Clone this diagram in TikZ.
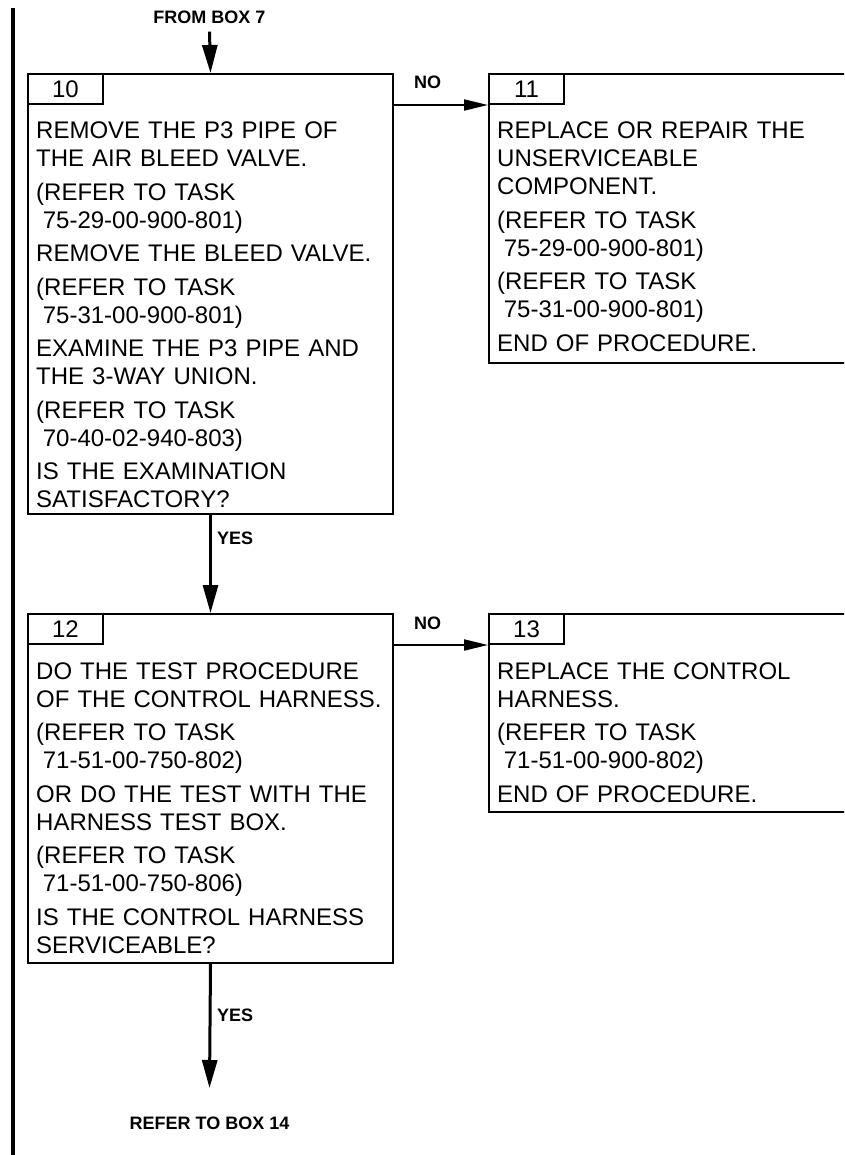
\documentclass[tikz,border=0pt]{standalone}
\usepackage{fontspec}
\setmainfont{Liberation Sans}
\usetikzlibrary{arrows.meta}
\newcommand{\ind}{\hspace*{0.278em}}
\begin{document}
\begin{tikzpicture}[x=1pt,y=1pt,
  box/.style={draw,line width=2pt,inner sep=0pt,anchor=north west},
  lbl/.style={draw,line width=2pt,inner sep=0pt,anchor=north west,minimum width=75pt,minimum height=30pt,font=\fontsize{24}{28}\selectfont},
  txt/.style={anchor=base west,inner sep=0pt,text width=420pt,align=left,font=\fontsize{24}{28}\selectfont},
  tag/.style={font=\bfseries\fontsize{18}{20}\selectfont,inner sep=0pt},
  vflow/.style={line width=3pt,-{Triangle[length=28pt,width=15pt]}},
  hflow/.style={line width=2pt,-{Triangle[length=24pt,width=11pt]}},
]
\useasboundingbox (0,0) rectangle (844,-1155);
\clip (0,0) rectangle (844,-1155);
\fill[white] (0,0) rectangle (844,-1155);

% left change bar
\draw[line width=3.5pt] (13,-8) -- (13,-1155);

% boxes
\node[box,minimum width=365pt,minimum height=440pt] (b10) at (27,-73) {};
\node[box,minimum width=400pt,minimum height=289pt] (b11) at (488,-73) {};
\node[box,minimum width=365pt,minimum height=349pt] (b12) at (27,-613) {};
\node[box,minimum width=400pt,minimum height=198pt] (b13) at (488,-613) {};

% number tabs
\node[lbl] (l10) at (b10.north west) {10};
\node[lbl] (l11) at (b11.north west) {11};
\node[lbl] (l12) at (b12.north west) {12};
\node[lbl] (l13) at (b13.north west) {13};

% texts
\node[txt] (t10) at (36,-139) {REMOVE THE P3 PIPE OF\\THE AIR BLEED VALVE.\\[5.5pt]
(REFER TO TASK\\\ind 75-29-00-900-801)\\[5.5pt]
REMOVE THE BLEED VALVE.\\[5.5pt]
(REFER TO TASK\\\ind 75-31-00-900-801)\\[5.5pt]
EXAMINE THE P3 PIPE AND\\THE 3-WAY UNION.\\[5.5pt]
(REFER TO TASK\\\ind 70-40-02-940-803)\\[5.5pt]
IS THE EXAMINATION\\SATISFACTORY?};

\node[txt] (t11) at (497,-139) {REPLACE OR REPAIR THE\\UNSERVICEABLE\\COMPONENT.\\[5.5pt]
(REFER TO TASK\\\ind 75-29-00-900-801)\\[5.5pt]
(REFER TO TASK\\\ind 75-31-00-900-801)\\[5.5pt]
END OF PROCEDURE.};

\node[txt] (t12) at (36,-679) {DO THE TEST PROCEDURE\\OF THE CONTROL HARNESS.\\[5.5pt]
(REFER TO TASK\\\ind 71-51-00-750-802)\\[5.5pt]
OR DO THE TEST WITH THE\\HARNESS TEST BOX.\\[5.5pt]
(REFER TO TASK\\\ind 71-51-00-750-806)\\[5.5pt]
IS THE CONTROL HARNESS\\SERVICEABLE?};

\node[txt] (t13) at (497,-679) {REPLACE THE CONTROL\\HARNESS.\\[5.5pt]
(REFER TO TASK\\\ind 71-51-00-900-802)\\[5.5pt]
END OF PROCEDURE.};

% flow labels
\node[tag] (from7) at (209.5,-17) {FROM BOX 7};
\node[tag] (ref14) at (209.5,-1123) {REFER TO BOX 14};
\node[tag,anchor=west] (yes1) at (217,-538) {YES};
\node[tag,anchor=west] (yes2) at (217,-1015) {YES};
\node[tag] (no1) at (427.5,-82) {NO};
\node[tag] (no2) at (427.5,-623) {NO};
\coordinate (end14) at (209.5,-1088);

% connectors
\draw[vflow] ([yshift=-8pt]from7.south) -- (b10.north);
\draw[vflow] (b10.south) -- (b12.north);
\draw[vflow] (b12.south) -- (end14);
\draw[hflow] (l10.south -| b10.east) -- (l11.south west);
\draw[hflow] (l12.south -| b12.east) -- (l13.south west);
\end{tikzpicture}
\end{document}
